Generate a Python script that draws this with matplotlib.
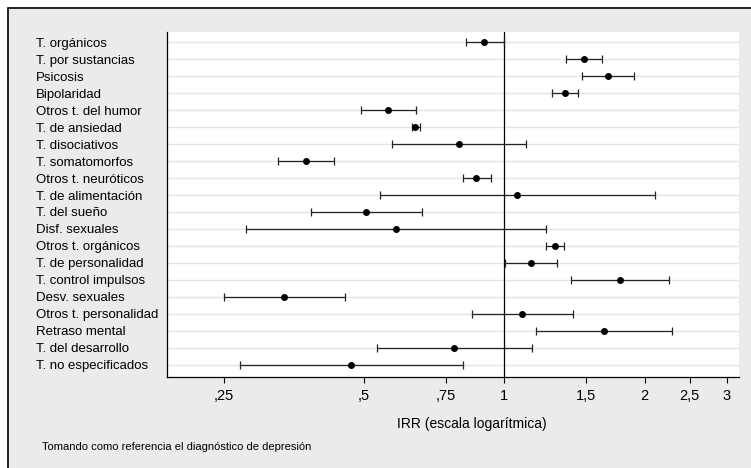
import matplotlib
matplotlib.use("Agg")
import matplotlib.pyplot as plt
from matplotlib.patches import Rectangle
import numpy as np

categories = ["T. orgánicos", "T. por sustancias", "Psicosis", "Bipolaridad",
              "Otros t. del humor", "T. de ansiedad", "T. disociativos",
              "T. somatomorfos", "Otros t. neuróticos", "T. de alimentación",
              "T. del sueño", "Disf. sexuales", "Otros t. orgánicos",
              "T. de personalidad", "T. control impulsos", "Desv. sexuales",
              "Otros t. personalidad", "Retraso mental", "T. del desarrollo",
              "T. no especificados"]
irr = [0.906, 1.482, 1.668, 1.351, 0.563, 0.644, 0.798, 0.376, 0.870, 1.066,
       0.504, 0.585, 1.286, 1.139, 1.772, 0.337, 1.093, 1.638, 0.781, 0.469]
ci_low = [0.828, 1.356, 1.469, 1.267, 0.493, 0.632, 0.575, 0.326, 0.814, 0.542,
          0.384, 0.279, 1.226, 1.003, 1.390, 0.250, 0.851, 1.169, 0.533, 0.271]
ci_high = [0.997, 1.622, 1.896, 1.436, 0.645, 0.658, 1.113, 0.430, 0.936, 2.106,
           0.665, 1.226, 1.344, 1.297, 2.260, 0.456, 1.405, 2.294, 1.148, 0.814]
xticks = [0.25, 0.5, 0.75, 1, 1.5, 2, 2.5, 3]
xticklabels = [",25", ",5", ",75", "1", "1,5", "2", "2,5", "3"]

W, H = 751, 468
fig = plt.figure(figsize=(W / 100, H / 100), dpi=100)
fig.patch.set_facecolor("white")
bg = Rectangle((8 / W, -0.1), 1.2, 1 - 8 / H + 0.1, transform=fig.transFigure,
               facecolor="#ebebeb", edgecolor="black", linewidth=1.2, zorder=-5)
fig.patches.append(bg)

left, right, top, bottom = 167, 739, 32, 376.7
ax = fig.add_axes([left / W, 1 - bottom / H, (right - left) / W, (bottom - top) / H])
ax.set_zorder(2)
ax.set_facecolor("white")

y = np.arange(len(categories))
irr_a = np.array(irr)
err = np.vstack([irr_a - np.array(ci_low), np.array(ci_high) - irr_a])
for yi in y:
    ax.axhline(yi, color="#e3e3e3", lw=1.0, zorder=1)
ax.axvline(1, color="black", lw=0.9, zorder=2)
ax.errorbar(irr_a, y, xerr=err, fmt="o", color="black", ecolor="#222222",
            elinewidth=0.9, capsize=2.6, capthick=0.9, markersize=4.0, zorder=3)

ax.set_xscale("log")
ax.set_xlim(0.1887, 3.19)
ax.set_ylim(len(categories) - 1 + 0.69, -0.59)
ax.set_xticks(xticks)
ax.set_xticklabels(xticklabels)
ax.xaxis.set_minor_locator(matplotlib.ticker.NullLocator())
ax.tick_params(axis="x", direction="out", length=4.5, width=0.8, pad=4,
               labelsize=10.5)
for lab in ax.get_xticklabels():
    lab.set_family(["Liberation Sans Narrow", "Liberation Sans", "DejaVu Sans"])
ax.set_yticks(y)
ax.set_yticklabels(categories, ha="left", fontsize=9.5,
                   family=["Liberation Sans", "DejaVu Sans"])
ax.tick_params(axis="y", length=0, pad=(left - 36) * 0.72)
for s in ["top", "right"]:
    ax.spines[s].set_visible(False)
ax.spines["left"].set_linewidth(0.9)
ax.spines["bottom"].set_linewidth(0.9)

fig.text(472 / W, 1 - 424 / H, "IRR (escala logarítmica)", ha="center", va="center",
         fontsize=10, family=["Liberation Sans Narrow", "Liberation Sans", "DejaVu Sans"])
fig.text(42 / W, 1 - 447 / H, "Tomando como referencia el diagnóstico de depresión",
         ha="left", va="center", fontsize=8,
         family=["Liberation Sans Narrow", "Liberation Sans", "DejaVu Sans"])

fig.savefig("out.png", dpi=100)
